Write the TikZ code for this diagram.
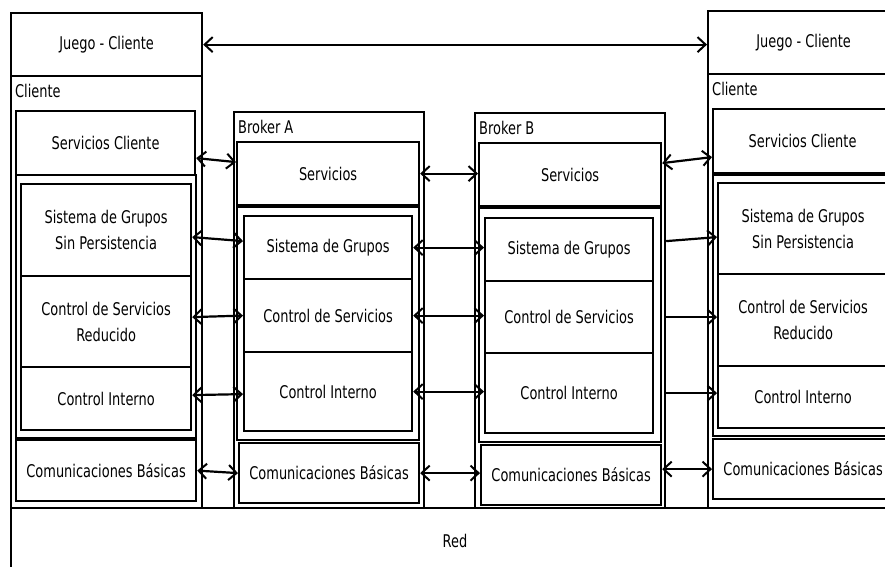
\documentclass[tikz,border=0pt]{standalone}
\usepackage{fontspec}
\setmainfont{DejaVu Sans}[FakeStretch=0.74]
\usetikzlibrary{arrows.meta}

\begin{document}
\begin{tikzpicture}[
  x=1pt, y=-1pt,
  every node/.style={font=\fontsize{17.5}{26}\selectfont},
  capa/.style={draw, line width=2.2pt, anchor=north west, align=center, inner sep=0pt},
  etiqueta/.style={anchor=north west, inner xsep=5pt, inner ysep=9pt},
  punta/.tip={Straight Barb[length=8pt,width=15pt,line width=2pt]},
  flecha/.style={line width=2.2pt, punta-punta},
  ida/.style={line width=2.2pt, -punta}
]
\useasboundingbox (0,0) rectangle (885,566);

\node[capa, minimum width=900, minimum height=80] (red) at (10,507) {};
\node (redtxt) at (455,541) {Red};

% cliente izquierdo
\node[capa, minimum width=191, minimum height=63] (ljc) at (10,12) {Juego - Cliente};
\node[capa, minimum width=191, minimum height=432] (lcli) at (10,75) {};
\node[etiqueta] (lclilbl) at (lcli.north west) {Cliente};
\node[capa, minimum width=179, minimum height=64] (lsc) at (15,110) {Servicios Cliente};
\node[capa, minimum width=180, minimum height=263] (lmid) at (15,174) {};
\node[capa, minimum width=170, minimum height=92] (lsg) at (20,183) {Sistema de Grupos\\Sin Persistencia};
\node[capa, minimum width=170, minimum height=91] (lcs) at (20,275) {Control de Servicios\\Reducido};
\node[capa, minimum width=170, minimum height=63] (lci) at (20,366) {Control Interno};
\node[capa, minimum width=180, minimum height=61] (lcb) at (15,439) {Comunicaciones Básicas};

% broker A
\node[capa, minimum width=190, minimum height=396] (bka) at (233,111) {};
\node[etiqueta] (bkalbl) at (bka.north west) {Broker A};
\node[capa, minimum width=182, minimum height=63] (asv) at (236,141) {Servicios};
\node[capa, minimum width=182, minimum height=233] (amid) at (236,206) {};
\node[capa, minimum width=168, minimum height=63] (asg) at (243,215) {Sistema de Grupos};
\node[capa, minimum width=168, minimum height=73] (acs) at (243,278) {Control de Servicios};
\node[capa, minimum width=168, minimum height=79] (aci) at (243,351) {Control Interno};
\node[capa, minimum width=180, minimum height=60] (acb) at (238,442) {Comunicaciones Básicas};

% broker B
\node[capa, minimum width=190, minimum height=395] (bkb) at (474,112) {};
\node[etiqueta] (bkblbl) at (bkb.north west) {Broker B};
\node[capa, minimum width=182, minimum height=63] (bsv) at (478,142) {Servicios};
\node[capa, minimum width=182, minimum height=234] (bmid) at (478,207) {};
\node[capa, minimum width=168, minimum height=63] (bsg) at (484,217) {Sistema de Grupos};
\node[capa, minimum width=168, minimum height=72] (bcs) at (484,280) {Control de Servicios};
\node[capa, minimum width=168, minimum height=80] (bci) at (484,352) {Control Interno};
\node[capa, minimum width=180, minimum height=60] (bcb) at (480,444) {Comunicaciones Básicas};

% cliente derecho
\node[capa, minimum width=191, minimum height=63] (rjc) at (707,10) {Juego - Cliente};
\node[capa, minimum width=191, minimum height=434] (rcli) at (707,73) {};
\node[etiqueta] (rclilbl) at (rcli.north west) {Cliente};
\node[capa, minimum width=179, minimum height=64] (rsc) at (712,108) {Servicios Cliente};
\node[capa, minimum width=180, minimum height=261] (rmid) at (712,174) {};
\node[capa, minimum width=170, minimum height=91] (rsg) at (717,182) {Sistema de Grupos\\Sin Persistencia};
\node[capa, minimum width=170, minimum height=92] (rcs) at (717,273) {Control de Servicios\\Reducido};
\node[capa, minimum width=170, minimum height=62] (rci) at (717,365) {Control Interno};
\node[capa, minimum width=180, minimum height=60] (rcb) at (712,438) {Comunicaciones Básicas};

\draw[flecha] (ljc.east) -- (rjc.west |- ljc.east);

\draw[flecha] ([yshift=-15]lsc.east) -- ([yshift=11.5]asv.west);
\draw[flecha] ([yshift=-7]lsg.east) -- ([yshift=6.5]asg.west);
\draw[flecha] ([yshift=4.5]lcs.east) -- (acs.west);
\draw[flecha] ([yshift=3.5]lci.east) -- ([yshift=-2.5]aci.west);
\draw[flecha] (lcb.east) -- (acb.west);

\draw[flecha] (asv.east) -- (asv.east -| bsv.west);
\draw[flecha] (asg.east) -- (asg.east -| bsg.west);
\draw[flecha] (acs.east) -- (acs.east -| bcs.west);
\draw[flecha] (aci.east) -- (aci.east -| bci.west);
\draw[flecha] (acb.east) -- (acb.east -| bcb.west);

\draw[flecha] ([yshift=11.5]bsv.east) -- ([yshift=-16]rsc.west);
\draw[ida] ([yshift=8.5]bsg.east -| bkb.east) -- ([yshift=-8.5]rsg.west);
\draw[ida] (bcs.east -| bkb.east) -- (bcs.east -| rcs.west);
\draw[ida] (bci.east -| bkb.east) -- (bci.east -| rci.west);
\draw[flecha] ([yshift=6]bcb.east) -- ([yshift=6]bcb.east -| rcb.west);
\end{tikzpicture}
\end{document}
